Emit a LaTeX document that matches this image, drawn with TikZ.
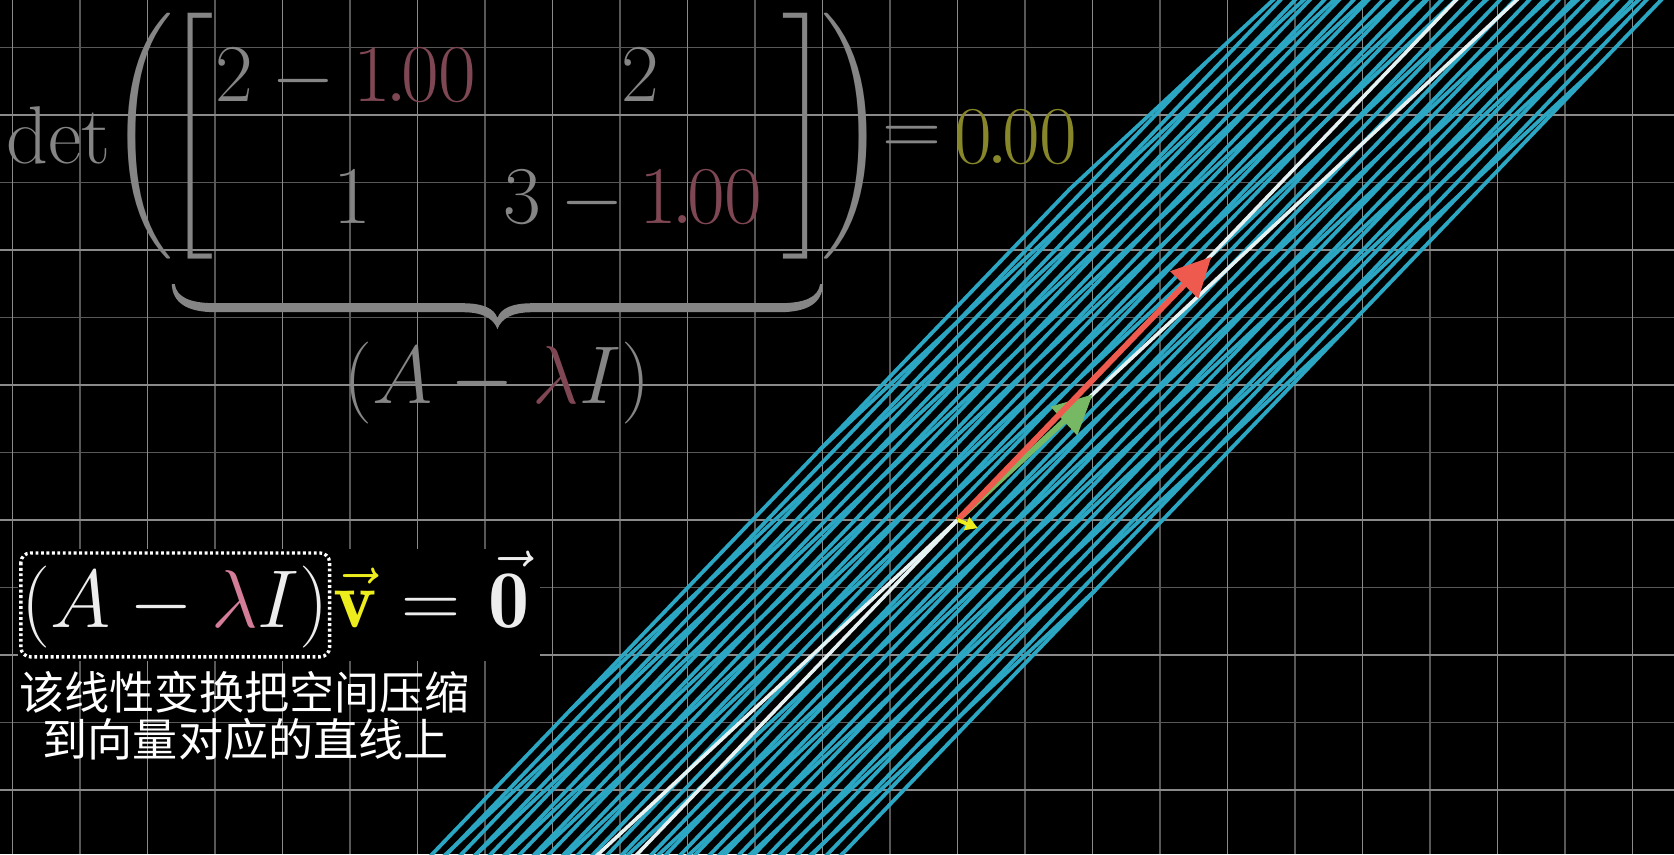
\documentclass[tikz,border=0pt]{standalone}
\usepackage{fontspec}
\newfontfamily\cjk{Noto Sans CJK SC}
\usepackage{amsmath}
\usepackage{exscale}
\usetikzlibrary{arrows.meta}
\definecolor{gridmaj}{HTML}{8A8A8A}
\definecolor{gridmin}{HTML}{585858}
\definecolor{planeblue}{HTML}{2BA6C3}
\definecolor{axiswhite}{HTML}{E6F2F2}
\definecolor{fadegray}{HTML}{858585}
\definecolor{fademaroon}{HTML}{7E4753}
\definecolor{fadeyellow}{HTML}{87872A}
\definecolor{vecred}{HTML}{EE5A4E}
\definecolor{vecgreen}{HTML}{77B865}
\definecolor{lampink}{HTML}{D47D99}
\definecolor{vyellow}{HTML}{EDED1E}
\tikzset{
  minorline/.style={gridmin, line width=0.3pt},
  majorline/.style={gridmaj, line width=0.38pt},
  planeline/.style={planeblue, line width=0.8pt},
  axisline/.style={axiswhite, line width=0.75pt},
  ftxt/.style={inner sep=0pt, outer sep=0pt, text=fadegray, font=\LARGE},
  btxt/.style={inner sep=0pt, outer sep=0pt, text=white!93!black, font=\LARGE},
  cjktxt/.style={inner sep=0pt, outer sep=0pt, text=white, font={\cjk\fontsize{9.5pt}{11pt}\selectfont}},
  vecarrow/.style={line width=1.2pt, -{Triangle[length=0.29cm, width=0.28cm]}}
}
\newcommand{\tightdec}[2]{#1\mkern-1.2mu.\mkern-1.4mu#2}
\begin{document}
\begin{tikzpicture}[x=1cm, y=1cm]
\useasboundingbox (-7.0933,-2.4741) rectangle (5.3067,3.8519);
\fill[black] (-7.0933,-2.4741) rectangle (5.3067,3.8519);
\begin{scope}
  \clip (-7.0933,-2.4741) rectangle (5.3067,3.8519);
  % background grid
  \foreach \k in {-6.5,-5.5,...,4.6} \draw[minorline] (\k,-2.4741) -- (\k,3.8519);
  \foreach \k in {-1.5,-0.5,...,3.6} \draw[minorline] (-7.0933,\k) -- (5.3067,\k);
  \foreach \k in {-7,...,5} \draw[majorline] (\k,-2.4741) -- (\k,3.8519);
  \foreach \k in {-2,...,3} \draw[majorline] (-7.0933,\k) -- (5.3067,\k);
  % transformed plane (nearly squished onto a line)
  \begin{scope}[cm={1,0.93,1.854,1.934,(0,0)}]
    \foreach \a in {-14,...,-1,1,2,...,14} \draw[planeline] (\a,-8) -- (\a,8);
    \foreach \b in {-8,...,-1,1,2,...,8} \draw[planeline] (-14,\b) -- (14,\b);
    \draw[axisline] (-14,0) -- (14,0);
    \draw[axisline] (0,-8) -- (0,8);
  \end{scope}
\end{scope}
% vectors
\coordinate (O) at (0,0);
\coordinate (ihat) at (1,0.93);
\coordinate (jhat) at (1.88,1.95);
\coordinate (vtip) at (0.15,-0.06);
\draw[vecgreen, vecarrow] (O) -- (ihat);
\draw[vecred, vecarrow] (O) -- (jhat);
\draw[vyellow, line width=0.8pt, -{Triangle[length=0.09cm, width=0.1cm]}] (O) -- (vtip);
% texts in pixel coordinates
\begin{scope}[x=0.00740741cm, y=-0.00740741cm, shift={(-957.6,-520)}]
  % top formula
  \node[ftxt, anchor=base] (det) at (57.5,163) {$\det$};
  \node[ftxt] (lpar) at (140.5,135.5) {$\Bigg($};
  \node[ftxt] (lbrk) at (188.5,135.5) {$\Bigg[$};
  \node[ftxt, anchor=base] (a11a) at (233.5,101) {$2$};
  \node[ftxt, anchor=base] (a11m) at (303,101) {$-$};
  \node[ftxt, anchor=base, text=fademaroon] (a11l) at (414.5,101) {$\tightdec{1}{00}$};
  \node[ftxt, anchor=base] (a12) at (640.5,101) {$2$};
  \node[ftxt, anchor=base] (a21) at (352,223) {$1$};
  \node[ftxt, anchor=base] (a22a) at (521.5,223) {$3$};
  \node[ftxt, anchor=base] (a22m) at (592,223) {$-$};
  \node[ftxt, anchor=base, text=fademaroon] (a22l) at (700.5,223) {$\tightdec{1}{00}$};
  \node[ftxt] (rbrk) at (806,136) {$\Bigg]$};
  \node[ftxt] (rpar) at (853.5,135.5) {$\Bigg)$};
  \node[ftxt, anchor=base] (eq) at (911.5,155.5) {$=$};
  \node[ftxt, anchor=base, text=fadeyellow] (detval) at (1016,163) {$\tightdec{0}{00}$};
  % brace
  \fill[fadegray] (171,284) .. controls (172,302) and (185,312) .. (215,312) -- (462,312)
     .. controls (482,312) and (493,318) .. (497,329)
     .. controls (501,318) and (512,312) .. (532,312) -- (779,312)
     .. controls (809,312) and (822,302) .. (823,284)
     -- (820,284) .. controls (818,297) and (805,303) .. (779,303) -- (532,303)
     .. controls (512,303) and (500,308) .. (497,318)
     .. controls (494,308) and (482,303) .. (462,303) -- (215,303)
     .. controls (189,303) and (176,297) .. (174,284) -- cycle;
  \node[ftxt, anchor=base] (bracelab) at (496.5,403) {$(A-{\color{fademaroon}\lambda}I)$};
  % bottom equation
  \fill[black] (17,549) rectangle (540,661);
  \node[btxt, anchor=base] (alam) at (174.5,628) {$(A-{\color{lampink}\lambda}I)$};
  \draw[white, line width=0.7pt, dash pattern=on 0.6pt off 0.55pt, rounded corners=2pt] (20,553) rectangle (329,657);
  \node[btxt, anchor=base, text=vyellow] (vv) at (354.5,628) {$\vec{\mathbf{v}}$};
  \node[btxt, anchor=base] (eq2) at (431,628) {$=$};
  \node[btxt, anchor=base] (zero) at (509,628) {$\vec{\mathbf{0}}$};
  % subtitle
  \node[cjktxt, anchor=base] (sub1) at (244,710) {该线性变换把空间压缩};
  \node[cjktxt, anchor=base] (sub2) at (245,757) {到向量对应的直线上};
\end{scope}
\end{tikzpicture}
\end{document}
